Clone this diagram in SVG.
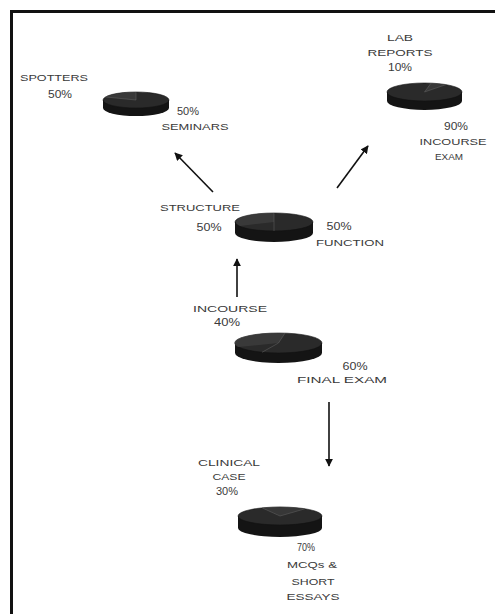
<svg xmlns="http://www.w3.org/2000/svg" width="495" height="614" viewBox="0 0 495 614">
<defs>
<style>
.t{font-family:"Liberation Sans",Arial,sans-serif;font-size:9px;fill:#3a3a3a;text-anchor:middle}
.p{font-size:10px}
.side{fill:#141414}
.top{fill:#2a2a2a;stroke:#111;stroke-width:0.6}
.wedge{fill:#444}
.div{stroke:#666;stroke-width:0.5;fill:none}
.conn{stroke:#111;stroke-width:1.6;fill:none}
</style>
<marker id="ah" viewBox="0 0 10 10" refX="9" refY="5" markerWidth="5" markerHeight="5" orient="auto" markerUnits="strokeWidth">
<path d="M0,0 L10,5 L0,10 Z" fill="#111"/>
</marker>
</defs>
<rect x="0" y="0" width="495" height="614" fill="#fff"/>
<path d="M11.5,614 L11.5,11.5 L495,11.5" fill="none" stroke="#111" stroke-width="3"/>

<g id="connectors">
<line class="conn" x1="213" y1="192" x2="175" y2="153" marker-end="url(#ah)"/>
<line class="conn" x1="337" y1="188" x2="368" y2="146" marker-end="url(#ah)"/>
<line class="conn" x1="237" y1="297" x2="237" y2="259" marker-end="url(#ah)"/>
<line class="conn" x1="329" y1="402" x2="329" y2="466" marker-end="url(#ah)"/>
</g>

<g id="pie-seminars">
<path class="side" d="M103,100 L103,108 A33,8 0 0 0 169,108 L169,100 Z"/>
<ellipse class="top" cx="136" cy="100" rx="33" ry="8"/>
<path class="wedge" d="M136,100 L106,97 A33,8 0 0 1 136,92 Z" opacity="0.6"/>
<path class="div" d="M106,97 L136,100 L136,92"/>
<text class="t" x="54" y="81" textLength="68" lengthAdjust="spacingAndGlyphs">SPOTTERS</text>
<text class="t p" x="60" y="98" textLength="24" lengthAdjust="spacingAndGlyphs">50%</text>
<text class="t p" x="188" y="115" textLength="22" lengthAdjust="spacingAndGlyphs">50%</text>
<text class="t" x="195" y="130" textLength="67" lengthAdjust="spacingAndGlyphs">SEMINARS</text>
</g>

<g id="pie-lab">
<path class="side" d="M387,92 L387,101 A37.5,9 0 0 0 462,101 L462,92 Z"/>
<ellipse class="top" cx="424.5" cy="92" rx="37.5" ry="9"/>
<path class="wedge" d="M424.5,92 L431,83.2 A37.5,9 0 0 1 446,84.6 Z" opacity="0.6"/>
<path class="div" d="M431,83.2 L424.5,92 L446,84.6"/>
<text class="t" x="400" y="41" textLength="26" lengthAdjust="spacingAndGlyphs">LAB</text>
<text class="t" x="400" y="56" textLength="65" lengthAdjust="spacingAndGlyphs">REPORTS</text>
<text class="t p" x="400" y="71" textLength="24" lengthAdjust="spacingAndGlyphs">10%</text>
<text class="t p" x="456" y="130" textLength="24" lengthAdjust="spacingAndGlyphs">90%</text>
<text class="t" x="453" y="145" textLength="67" lengthAdjust="spacingAndGlyphs">INCOURSE</text>
<text class="t" x="449" y="160" textLength="28" lengthAdjust="spacingAndGlyphs">EXAM</text>
</g>

<g id="pie-structure">
<path class="side" d="M235,222 L235,233 A39,9 0 0 0 313,233 L313,222 Z"/>
<ellipse class="top" cx="274" cy="222" rx="39" ry="9"/>
<path class="wedge" d="M274,222 L274,213 A39,9 0 0 0 240,226 Z" opacity="0.6"/>
<path class="div" d="M274,213 L274,222 L274,231"/>
<text class="t" x="200" y="211" textLength="80" lengthAdjust="spacingAndGlyphs">STRUCTURE</text>
<text class="t p" x="209" y="231" textLength="25" lengthAdjust="spacingAndGlyphs">50%</text>
<text class="t p" x="339" y="230" textLength="25" lengthAdjust="spacingAndGlyphs">50%</text>
<text class="t" x="350" y="246" textLength="68" lengthAdjust="spacingAndGlyphs">FUNCTION</text>
</g>

<g id="pie-final">
<path class="side" d="M235,343 L235,353 A43.5,10 0 0 0 322,353 L322,343 Z"/>
<ellipse class="top" cx="278.5" cy="343" rx="43.5" ry="10"/>
<path class="wedge" d="M278.5,343 L285,333.1 A43.5,10 0 0 0 238,347 Z" opacity="0.6"/>
<path class="div" d="M285,333.1 L278.5,343 L262,352.3"/>
<text class="t" x="230" y="312" textLength="74" lengthAdjust="spacingAndGlyphs">INCOURSE</text>
<text class="t p" x="227" y="326" textLength="26" lengthAdjust="spacingAndGlyphs">40%</text>
<text class="t p" x="355" y="370" textLength="25" lengthAdjust="spacingAndGlyphs">60%</text>
<text class="t" x="342" y="383" textLength="90" lengthAdjust="spacingAndGlyphs">FINAL EXAM</text>
</g>

<g id="pie-clinical">
<path class="side" d="M238,516 L238,528 A42,9 0 0 0 322,528 L322,516 Z"/>
<ellipse class="top" cx="280" cy="516" rx="42" ry="9"/>
<path class="wedge" d="M280,516 L262,507.8 A42,9 0 0 1 305,508.8 Z" opacity="0.5"/>
<path class="div" d="M262,507.8 L280,516 L305,508.8"/>
<text class="t" x="229" y="466" textLength="62" lengthAdjust="spacingAndGlyphs">CLINICAL</text>
<text class="t" x="229" y="480" textLength="33" lengthAdjust="spacingAndGlyphs">CASE</text>
<text class="t p" x="227" y="495" textLength="22" lengthAdjust="spacingAndGlyphs">30%</text>
<text class="t p" x="306" y="551" textLength="18" lengthAdjust="spacingAndGlyphs">70%</text>
<text class="t" x="312" y="568" textLength="50" lengthAdjust="spacingAndGlyphs">MCQs &amp;</text>
<text class="t" x="313" y="585" textLength="43" lengthAdjust="spacingAndGlyphs">SHORT</text>
<text class="t" x="313" y="600" textLength="53" lengthAdjust="spacingAndGlyphs">ESSAYS</text>
</g>
</svg>
